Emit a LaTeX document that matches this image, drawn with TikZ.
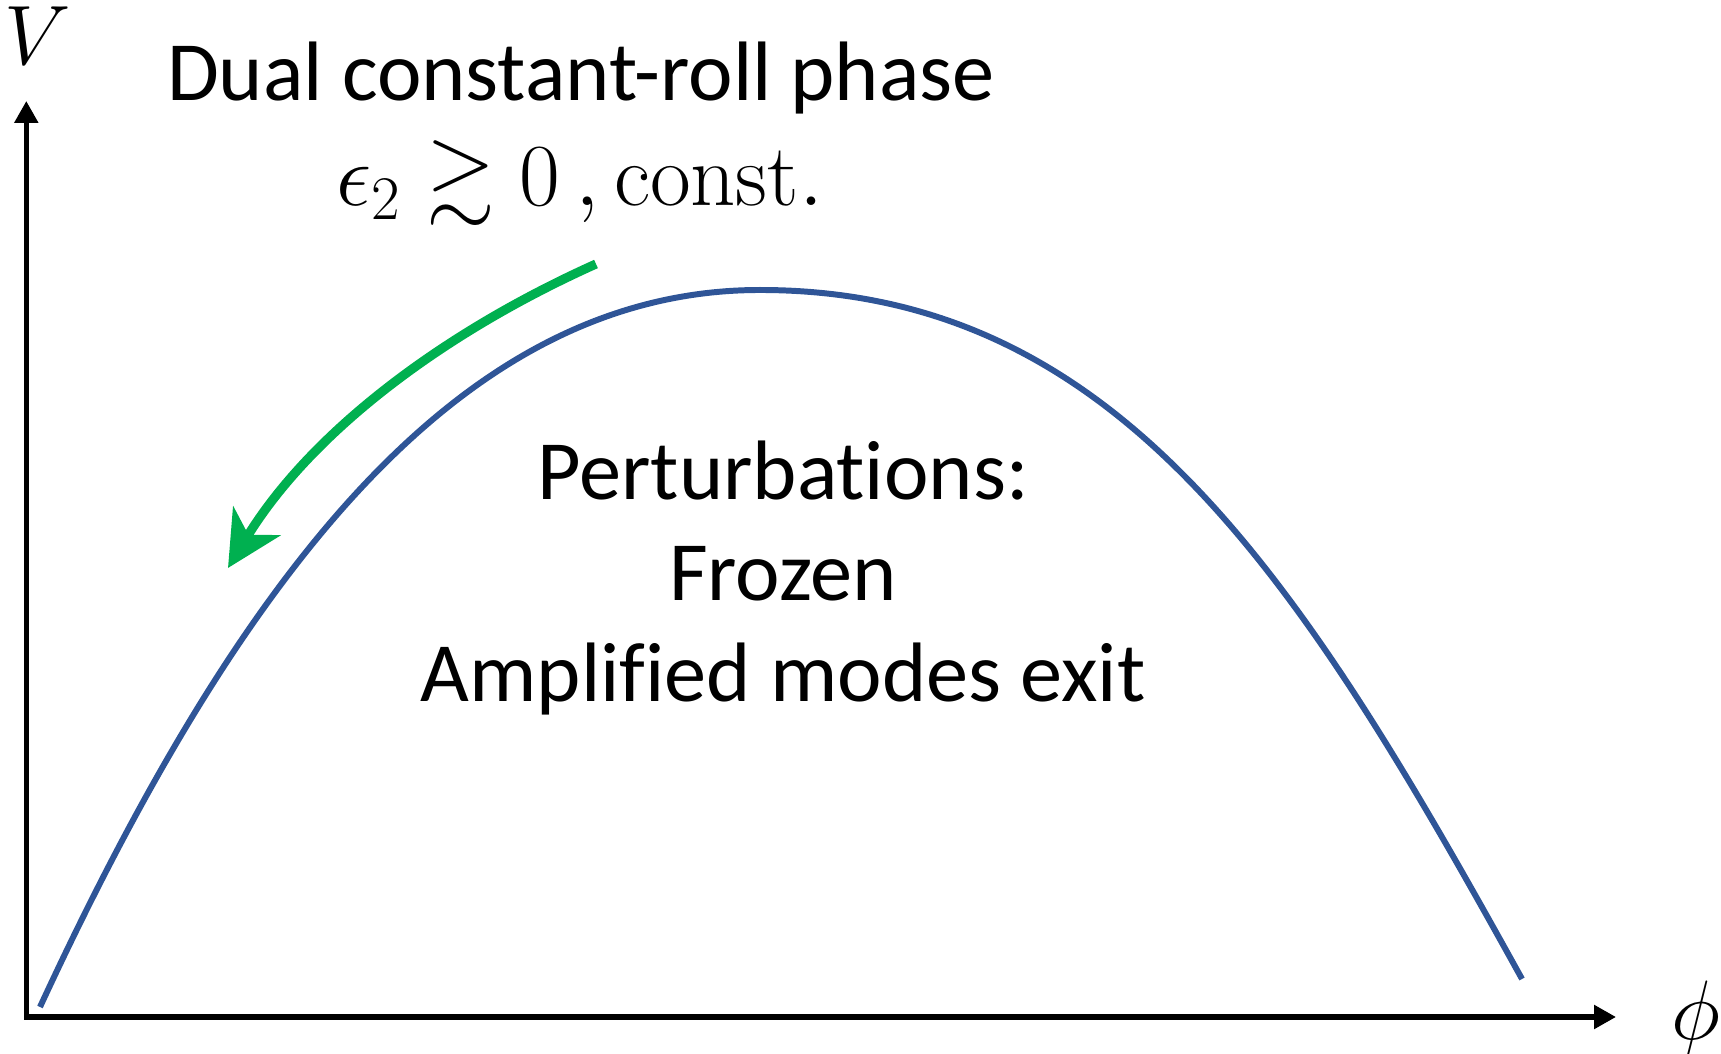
\RequirePackage{fix-cm}
\documentclass[tikz,border=0pt]{standalone}
\usepackage{amsmath,amssymb}
\usepackage[no-math]{fontspec}
\setmainfont{Carlito}[Ligatures=NoCommon]
\usetikzlibrary{arrows.meta}
\definecolor{curvablue}{RGB}{47,85,151}
\definecolor{flechaverde}{RGB}{0,176,80}

\begin{document}
\begin{tikzpicture}[line width=1.5pt,>={Triangle[length=2.2mm,width=2.3mm]},font=\fontsize{24}{28.8}\selectfont]
  \useasboundingbox (0,0) rectangle (17.21,10.54);
  % ejes V y phi
  \coordinate (ytip) at (0.263,9.53);
  \coordinate (xtip) at (16.16,0.37);
  \draw[<->] (ytip) |- (xtip);
  \node (V) at (0.38,10.18) {$V$};
  \node (phi) at (16.96,0.36) {$\phi$};
  % titulo y condicion
  \node[anchor=base] (titulo) at (5.81,9.53) {Dual constant-roll phase};
  \node[anchor=base,font=\fontsize{25.2}{30}\selectfont] (cond) at (5.80,8.48) {$\epsilon_2\gtrsim 0\,,\mathrm{const.}$};
  % potencial
  \coordinate (izq) at (0.40,0.47);
  \coordinate (cima) at (7.60,7.64);
  \coordinate (der) at (15.22,0.75);
  \draw[curvablue,line width=1.7pt] (izq) .. controls (2.40,4.79) and (4.60,7.64) .. (cima)
    .. controls (11.20,7.64) and (13.02,4.73) .. (der);
  % flecha verde: rodando hacia la izquierda
  \coordinate (inicio) at (5.96,7.90);
  \coordinate (fin) at (2.28,4.86);
  \draw[flechaverde,line width=2.6pt,-{Stealth[length=5.5mm,width=5.5mm,inset=1.6mm]}]
    (inicio) .. controls (4.4,7.2) and (3.1,6.2) .. (fin);
  % perturbaciones
  \node[anchor=base] (pert) at (7.83,5.54) {Perturbations:};
  \node[anchor=base] (frozen) at (7.83,4.53) {Frozen};
  \node[anchor=base] (modos) at (7.83,3.52) {Amplified modes exit};
\end{tikzpicture}
\end{document}
